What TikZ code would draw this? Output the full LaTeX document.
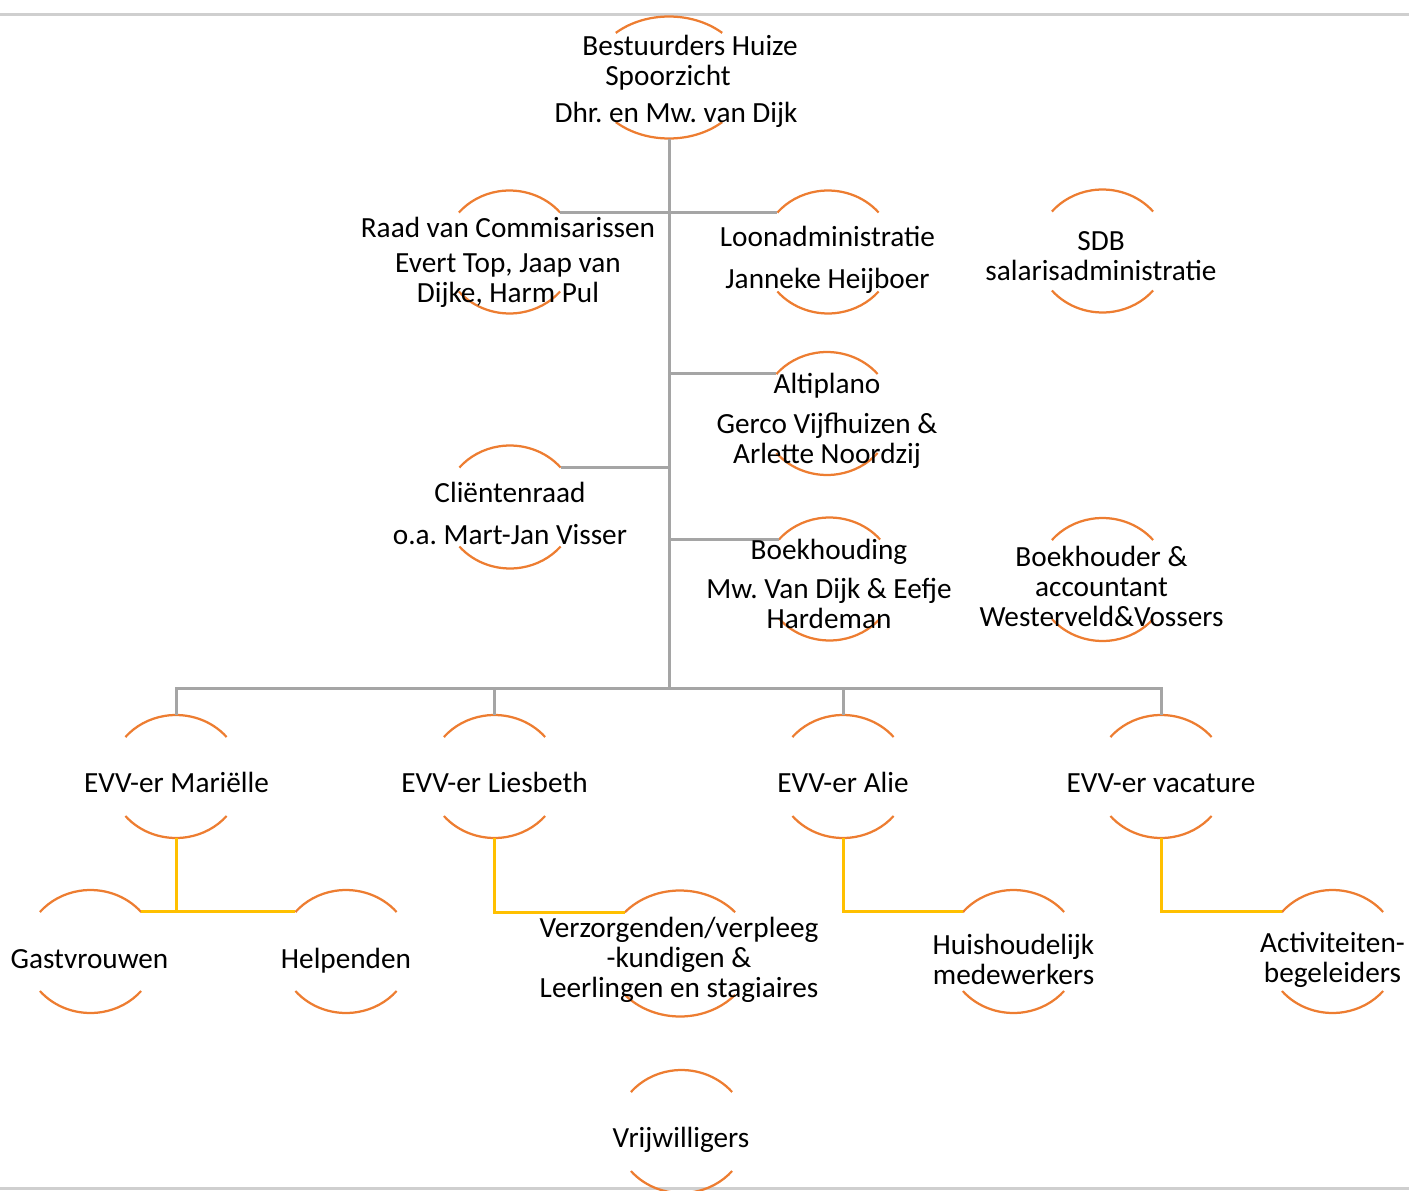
\documentclass[tikz,border=0pt]{standalone}
\usepackage{fontspec}
\setmainfont{Carlito}
\usetikzlibrary{shapes.geometric}
\definecolor{ringorange}{HTML}{ED7D31}
\definecolor{linegray}{HTML}{A5A5A5}
\definecolor{lineyellow}{HTML}{FFC000}
\definecolor{rulegray}{HTML}{CFCFCF}
\tikzset{
  ring/.style={ellipse, draw=none, inner sep=0pt, outer sep=0pt, minimum width=132pt, minimum height=123pt},
  lbl/.style={anchor=base, align=center, inner sep=0pt, font=\fontsize{29.25}{30}\selectfont\frenchspacing},
  arcline/.style={ringorange, line width=2.25pt},
  conn/.style={linegray, line width=3pt},
  sub/.style={lineyellow, line width=3pt}
}
\begin{document}
\begin{tikzpicture}[x=1pt,y=1pt]
\useasboundingbox (0,0) rectangle (1409,-1191);
\draw [rulegray, line width=2.5pt] (0,-14.5) -- (1409,-14.5);
\draw [rulegray, line width=2.5pt] (0,-1188.5) -- (1409,-1188.5);

\node [ring, minimum width=156pt, minimum height=122pt] (top) at (669,-77.5) {};
\node [ring] (raad) at (509.5,-252) {};
\node [ring] (loon) at (828,-252) {};
\node [ring] (sdb) at (1102.5,-251) {};
\node [ring] (alti) at (827,-413.5) {};
\node [ring] (client) at (510,-507) {};
\node [ring] (boek) at (829.5,-579) {};
\node [ring] (boekh) at (1102.5,-579.5) {};
\node [ring] (evv1) at (176,-776.5) {};
\node [ring] (evv2) at (494.5,-776.5) {};
\node [ring] (evv3) at (843,-776.5) {};
\node [ring] (evv4) at (1161,-776.5) {};
\node [ring] (gast) at (90.5,-951.5) {};
\node [ring] (help) at (346,-951.5) {};
\node [ring, minimum width=146pt, minimum height=126pt] (verz) at (680,-953.5) {};
\node [ring] (huis) at (1013.5,-951.5) {};
\node [ring] (act) at (1332.5,-951.5) {};
\node [ring] (vrij) at (681.5,-1131.5) {};
\coordinate (bus) at (669,-688.5);

\foreach \n/\rx/\ry/\t in {top/78/61/47, raad/66/61.5/40, loon/66/61.5/40, sdb/66/61.5/40,
  alti/66/61.5/40, client/66/61.5/40, boek/66/61.5/40, boekh/66/61.5/40,
  evv1/66/61.5/40, evv2/66/61.5/40, evv3/66/61.5/40, evv4/66/61.5/40,
  gast/66/61.5/40, help/66/61.5/40, verz/73/63/41, huis/66/61.5/40,
  act/66/61.5/40, vrij/66/61.5/40}
{
  \draw [arcline] (\n.center) ++({\t}:{\rx} and {\ry}) arc [start angle={\t}, end angle={180-\t}, x radius={\rx}, y radius={\ry}];
  \draw [arcline] (\n.center) ++({180+\t}:{\rx} and {\ry}) arc [start angle={180+\t}, end angle={360-\t}, x radius={\rx}, y radius={\ry}];
}

\draw [conn] (top.south) -- (bus);
\draw [conn] (raad.38) -- (loon.142);
\draw [conn] (alti.142) -- (alti.142 -| bus);
\draw [conn] (client.38) -- (client.38 -| bus);
\draw [conn] (boek.142) -- (boek.142 -| bus);
\draw [conn] (evv1.north) |- (bus) -| (evv4.north);
\draw [conn] (evv2.north) -- (evv2.north |- bus);
\draw [conn] (evv3.north) -- (evv3.north |- bus);

\draw [sub] (evv1.south) -- (evv1.south |- gast.38);
\draw [sub] (gast.38) -- (help.142);
\draw [sub] (evv2.south) |- (verz.143);
\draw [sub] (evv3.south) |- (huis.142);
\draw [sub] (evv4.south) |- (act.142);

\node [lbl] (top-t) at (676,-122) {\hspace*{28pt}Bestuurders Huize\\Spoorzicht\hspace*{16pt}\null\\[7pt]Dhr. en Mw. van Dijk};
\node [lbl] (raad-t) at (508,-302) {Raad van Commisarissen\\[5pt]Evert Top, Jaap van\\Dijke, Harm Pul};
\node [lbl] (loon-t) at (827.5,-288) {Loonadministratie\\[12pt]Janneke Heijboer};
\node [lbl] (sdb-t) at (1101,-280) {SDB\\salarisadministratie};
\node [lbl] (alti-t) at (827,-463) {Altiplano\\[10pt]Gerco Vijfhuizen \&\\Arlette Noordzij};
\node [lbl] (client-t) at (510,-544) {Cliëntenraad\\[12pt]o.a. Mart-Jan Visser};
\node [lbl] (boek-t) at (829,-628) {Boekhouding\\[9pt]Mw. Van Dijk \& Eefje\\Hardeman};
\node [lbl] (boekh-t) at (1101.5,-626) {Boekhouder \&\\accountant\\Westerveld\&Vossers};
\node [lbl] (evv1-t) at (176.5,-792) {EVV-er Mariëlle};
\node [lbl] (evv2-t) at (494.5,-792) {EVV-er Liesbeth};
\node [lbl] (evv3-t) at (843,-792) {EVV-er Alie};
\node [lbl] (evv4-t) at (1161,-792) {EVV-er vacature};
\node [lbl] (gast-t) at (89.5,-968) {Gastvrouwen};
\node [lbl] (help-t) at (346,-968) {Helpenden};
\node [lbl] (verz-t) at (679,-997) {Verzorgenden/verpleeg\\-kundigen \&\\Leerlingen en stagiaires};
\node [lbl] (huis-t) at (1013.5,-984) {Huishoudelijk\\medewerkers};
\node [lbl] (act-t) at (1332.5,-982) {Activiteiten-\\begeleiders};
\node [lbl] (vrij-t) at (681,-1147) {Vrijwilligers};
\end{tikzpicture}
\end{document}
